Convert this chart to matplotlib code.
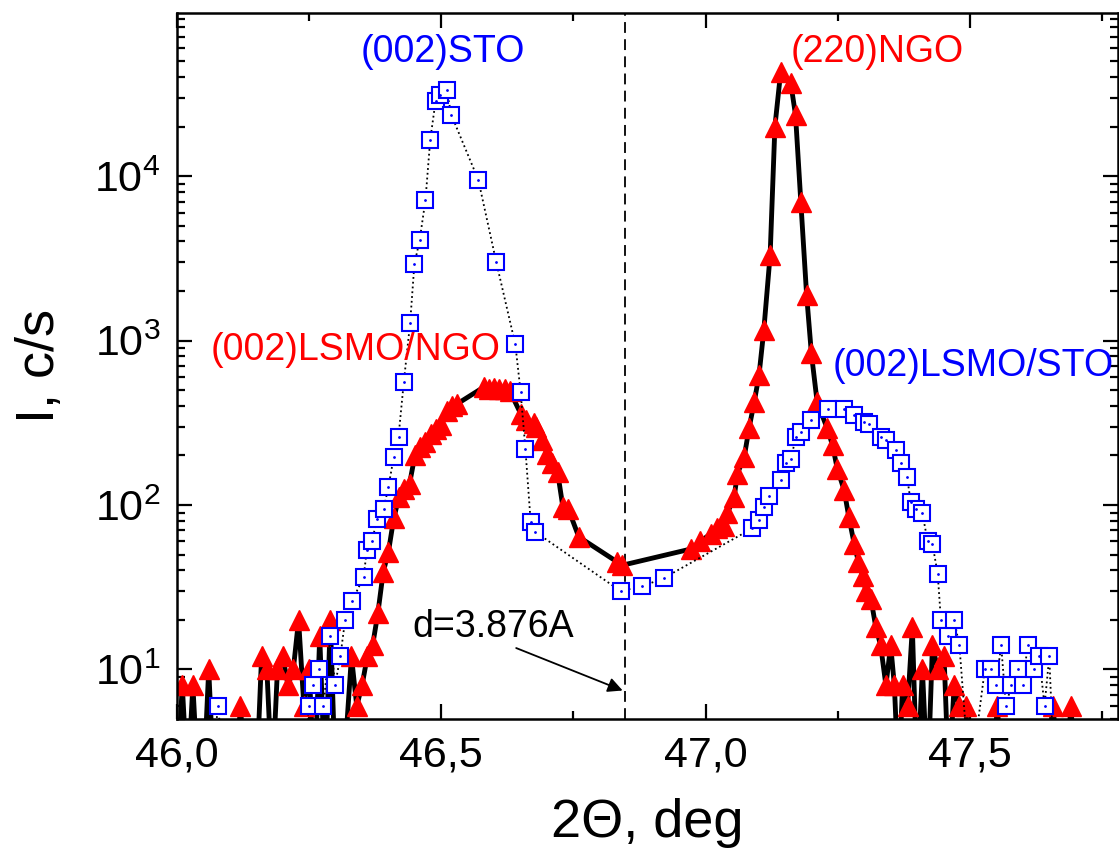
import numpy as np
import matplotlib
matplotlib.use('Agg')
import matplotlib.pyplot as plt
from matplotlib.ticker import LogLocator, NullFormatter

plt.rcParams['font.family'] = ['Liberation Sans', 'DejaVu Sans']
plt.rcParams['mathtext.fontset'] = 'custom'
plt.rcParams['mathtext.rm'] = 'Liberation Sans'

# LSMO/NGO образец (красные треугольники, черная линия); 2 = ниже оси
ngo_x = [46.00, 46.01, 46.02, 46.03, 46.04, 46.05, 46.06, 46.07, 46.08, 46.09,
         46.10, 46.11, 46.12, 46.13, 46.14, 46.15, 46.16, 46.17, 46.18, 46.19,
         46.20, 46.21, 46.22, 46.23, 46.24, 46.25, 46.26, 46.27, 46.28, 46.29,
         46.30, 46.31, 46.32, 46.33, 46.34, 46.35, 46.36, 46.37, 46.38, 46.39,
         46.40, 46.41, 46.42, 46.43, 46.44, 46.45, 46.46, 46.47, 46.48, 46.49,
         46.50, 46.51, 46.52, 46.53, 46.58, 46.59, 46.60, 46.61, 46.62, 46.63,
         46.65, 46.66, 46.675, 46.68, 46.69, 46.70, 46.71, 46.72, 46.73, 46.74,
         46.76, 46.833, 46.842, 46.972, 46.99, 47.01, 47.022, 47.035, 47.041, 47.054,
         47.06, 47.073, 47.082, 47.092, 47.101, 47.110, 47.122, 47.131, 47.142, 47.161,
         47.170, 47.180, 47.191, 47.200, 47.211, 47.230, 47.240, 47.249, 47.262, 47.271,
         47.281, 47.289, 47.297, 47.303, 47.3125, 47.322, 47.331, 47.341, 47.350, 47.357,
         47.365, 47.3725, 47.382, 47.391, 47.40, 47.41, 47.42, 47.429, 47.439, 47.451,
         47.46, 47.470, 47.480, 47.492, 47.50, 47.52, 47.54, 47.552, 47.56, 47.60,
         47.64, 47.657, 47.67, 47.68, 47.691, 47.70]
ngo_y = [2, 8, 2, 8, 2, 2, 10, 2, 2, 2,
         2, 2, 6, 2, 2, 2, 12, 10, 2, 10,
         12, 8, 10, 20, 6, 10, 2, 16, 2, 20,
         2, 2, 4, 12, 6, 8, 12, 14, 22, 39,
         52, 83, 112, 125, 135, 200, 225, 240, 272, 290,
         305, 375, 400, 412, 520, 510, 515, 510, 505, 490,
         360, 330, 313, 300, 247, 205, 180, 158, 97, 95,
         64, 45, 43, 54, 60, 67, 72, 75, 89, 112,
         155, 196, 292, 424, 618, 1155, 3320, 20000, 43200, 36700,
         23500, 6980, 1890, 834, 420, 292, 231, 166, 123, 84,
         58, 45, 37, 30, 27, 18, 14, 8, 14, 8,
         2, 8, 6, 18, 2, 10, 2, 14, 10, 12,
         2, 8, 6, 6, 2, 2, 2, 6, 2, 2,
         2, 6, 2, 2, 6, 2]

# LSMO/STO образец (синие квадраты, пунктир)
sto_x = [46.06, 46.078, 46.09, 46.24, 46.249, 46.258, 46.268, 46.277, 46.290, 46.299,
         46.309, 46.318, 46.331, 46.353, 46.359, 46.369, 46.378, 46.391, 46.400, 46.410,
         46.419, 46.429, 46.441, 46.449, 46.459, 46.470, 46.479, 46.489, 46.498, 46.510,
         46.519, 46.570, 46.604, 46.640, 46.650, 46.659, 46.669, 46.678, 46.839, 46.880,
         46.921, 47.088, 47.101, 47.110, 47.120, 47.142, 47.152, 47.161, 47.171, 47.180,
         47.199, 47.2305, 47.262, 47.281, 47.300, 47.309, 47.331, 47.341, 47.360, 47.369,
         47.381, 47.388, 47.398, 47.410, 47.420, 47.429, 47.439, 47.445, 47.459, 47.470,
         47.480, 47.50, 47.528, 47.540, 47.549, 47.559, 47.568, 47.578, 47.590, 47.600,
         47.609, 47.622, 47.631, 47.641, 47.650, 47.66]
sto_y = [2, 6, 2, 2, 6, 8, 10, 6, 16, 8,
         12, 20, 26, 36.5, 53, 60, 82, 95, 129, 196,
         260, 558, 1280, 2900, 4080, 7160, 16600, 28400, 31200, 33400,
         23500, 9470, 2990, 946, 487, 220, 79, 68.5, 30, 32,
         36, 72, 81, 97, 114, 141, 179, 191, 259, 278,
         328, 386, 386, 355, 320, 310, 260, 247, 215, 179,
         148, 104, 95, 89, 60, 58, 38, 20, 16, 20,
         14, 2, 10, 10, 8, 14, 6, 8, 10, 8,
         14, 10, 12, 6, 12, 2]

xtick_vals = [46.0, 46.5, 47.0, 47.5]
xtick_labels = ['46,0', '46,5', '47,0', '47,5']
d_line = 46.848

fig = plt.figure(figsize=(11.19, 8.5), dpi=100)
ax = fig.add_axes([177/1119, 1 - 719/850, (1118 - 177)/1119, (719 - 13)/850])

ax.plot(ngo_x, ngo_y, color='black', lw=3.5, marker='^', ms=14,
        mfc='red', mec='red', zorder=2)
ax.plot(sto_x, sto_y, color='black', lw=1.3, ls=':', marker='s', ms=12,
        mfc='white', mec='blue', mew=1.5, zorder=3)
ax.plot(sto_x, sto_y, ls='none', marker='.', ms=2, color='blue', zorder=4)

ax.axvline(d_line, color='black', lw=1.3, ls=(0, (6, 3.5)), zorder=1)

ax.set_yscale('log')
ax.set_xlim(46.0, 47.78)
ax.set_ylim(5, 9.8e4)

ax.set_xticks(xtick_vals)
ax.set_xticklabels(xtick_labels)
ax.set_xticks([46.25, 46.75, 47.25, 47.75], minor=True)
ax.yaxis.set_major_locator(LogLocator(base=10, numticks=10))
ax.yaxis.set_minor_locator(LogLocator(base=10, subs=np.arange(2, 10), numticks=20))
ax.yaxis.set_minor_formatter(NullFormatter())

ax.tick_params(which='both', direction='in', top=True, right=True, width=1.6)
ax.tick_params(which='major', length=11, labelsize=31, pad=12)
ax.tick_params(which='minor', length=6)
for s in ax.spines.values():
    s.set_linewidth(1.8)

ax.set_xlabel('2\u0398, deg', fontsize=39)
ax.xaxis.set_label_coords(0.5, -0.112)
ax.xaxis.label.set_va('top')
ax.set_ylabel('I, c/s', fontsize=39)
ax.yaxis.set_label_coords(-0.119, 0.5)

ax.text(46.347, 56900, '(002)STO', color='blue', fontsize=27, va='center', ha='left')
ax.text(47.161, 56900, '(220)NGO', color='red', fontsize=27, va='center', ha='left')
ax.text(46.612, 875, '(002)LSMO/NGO', color='red', fontsize=27, va='center', ha='right')
ax.text(47.2405, 698, '(002)LSMO/STO', color='blue', fontsize=27, va='center', ha='left')
ax.annotate('d=3.876A', xy=(46.843, 7.45), xytext=(46.445, 15.7), fontsize=27,
            va='baseline', ha='left',
            arrowprops=dict(arrowstyle='-|>', color='black', lw=1.3,
                            mutation_scale=22, shrinkA=0, shrinkB=0,
                            relpos=(0.6, 0)))

fig.savefig('out.png', dpi=100)
